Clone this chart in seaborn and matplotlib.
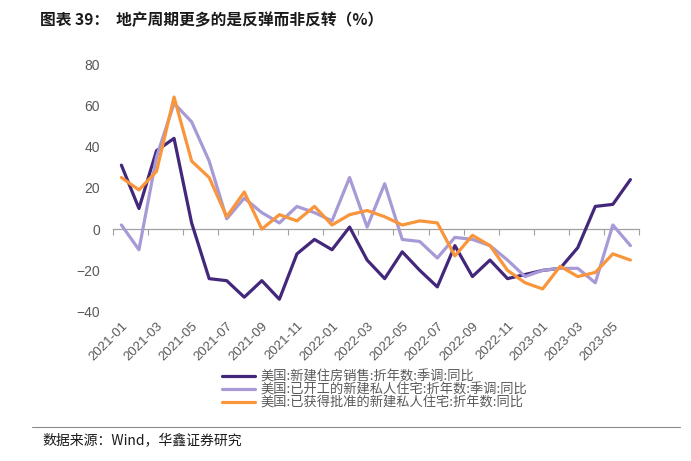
import numpy as np
import pandas as pd
import matplotlib
matplotlib.use("Agg")
import matplotlib.pyplot as plt
from matplotlib.lines import Line2D
import seaborn as sns

# ---- data ----
months = ["2021-01", "2021-02", "2021-03", "2021-04", "2021-05", "2021-06",
          "2021-07", "2021-08", "2021-09", "2021-10", "2021-11", "2021-12",
          "2022-01", "2022-02", "2022-03", "2022-04", "2022-05", "2022-06",
          "2022-07", "2022-08", "2022-09", "2022-10", "2022-11", "2022-12",
          "2023-01", "2023-02", "2023-03", "2023-04", "2023-05", "2023-06"]
sales = [31, 10, 38, 44, 3, -24, -25, -33, -25, -34, -12, -5, -10, 1, -15,
         -24, -11, -20, -28, -8, -23, -15, -24, -22, -20, -19, -9, 11, 12, 24]
starts = [2, -10, 35, 61, 52, 33, 5, 15, 8, 3, 11, 8, 4, 25, 1,
          22, -5, -6, -14, -4, -5, -8, -15, -23, -20, -19, -19, -26, 2, -8]
permits = [25, 19, 28, 64, 33, 25, 6, 18, 0, 7, 4, 11, 2, 7, 9,
           6, 2, 4, 3, -13, -3, -8, -20, -26, -29, -18, -23, -21, -12, -15]
series_names = ["美国:新建住房销售:折年数:季调:同比",
                "美国:已开工的新建私人住宅:折年数:季调:同比",
                "美国:已获得批准的新建私人住宅:折年数:同比"]
colors = ["#43277a", "#a89ad6", "#f9953b"]
yticks = [-40, -20, 0, 20, 40, 60, 80]

# ---- frame ----
rows = []
for name, vals in zip(series_names, [sales, starts, permits]):
    for i, v in enumerate(vals):
        rows.append({"idx": i, "month": months[i], "value": v, "series": name})
df = pd.DataFrame(rows)

sns.set_theme(style="white")
plt.rcParams["font.family"] = ["Noto Sans CJK SC", "DejaVu Sans"]
plt.rcParams["axes.unicode_minus"] = True

grey = "#595959"
fig = plt.figure(figsize=(6.91, 4.61), dpi=100)
ax = fig.add_axes([0.163, 0.324, 0.762, 0.537])

sns.lineplot(data=df, x="idx", y="value", hue="series", hue_order=series_names,
             palette=colors, linewidth=2.3, ax=ax, legend=True)

ax.set_xlim(-0.5, len(months) - 0.5)
ax.set_ylim(-40, 80)
ax.set_yticks(yticks)
ax.set_yticklabels([f"{v}".replace("-", "\u2212") for v in yticks],
                   fontsize=10, color=grey, family=["Liberation Sans", "DejaVu Sans"])
ax.set_xticks(range(0, len(months), 2))
ax.set_xticklabels(months[::2], rotation=45, ha="right", rotation_mode="anchor",
                   fontsize=9.5, color=grey, family=["Liberation Sans", "DejaVu Sans"])
ax.tick_params(axis="both", length=0)
ax.tick_params(axis="y", pad=9)
ax.tick_params(axis="x", pad=6)
ax.set_xlabel("")
ax.set_ylabel("")
for s in ax.spines.values():
    s.set_visible(False)

# zero axis line with boundary ticks
sec = ax.secondary_xaxis(1 / 3)
sec.set_xticks(np.arange(-0.5, len(months), 2))
sec.set_xticklabels([])
sec.tick_params(axis="x", direction="out", length=4, color="#a0a0a0", width=0.8)
for name, s in sec.spines.items():
    if name == "bottom":
        s.set_color("#a0a0a0")
        s.set_linewidth(0.9)
    else:
        s.set_visible(False)

# legend
handles, labels = ax.get_legend_handles_labels()
ax.get_legend().remove()
leg = fig.legend(handles, labels, loc="upper left", bbox_to_anchor=(0.321, 0.197),
                 frameon=False, fontsize=9.5, handlelength=2.5, handletextpad=0.4,
                 labelspacing=0.0, borderpad=0, borderaxespad=0)
for t in leg.get_texts():
    t.set_color(grey)

# title and source
fig.text(0.058, 0.957, "图表 39：  地产周期更多的是反弹而非反转（%）", fontsize=11.3,
         fontweight="bold", color="#1a1a1a", va="center", ha="left")
fig.add_artist(Line2D([0.046, 0.984], [0.074, 0.074], transform=fig.transFigure,
                      color="#8c8c8c", linewidth=0.8))
fig.text(0.061, 0.046, "数据来源：Wind，华鑫证券研究", fontsize=10, color="#1a1a1a",
         va="center", ha="left")

fig.savefig("out.png", dpi=100)
